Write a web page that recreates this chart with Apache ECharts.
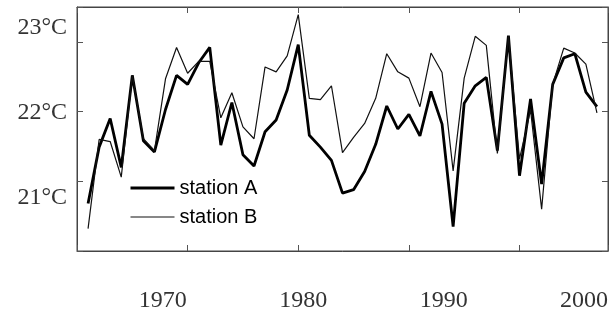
<!DOCTYPE html>
<html>
<head>
<meta charset="utf-8">
<script src="https://cdn.jsdelivr.net/npm/echarts@6/dist/echarts.min.js"></script>
<style>
html,body{margin:0;padding:0;background:#fff;}
#chart{width:613px;height:315px;}
</style>
</head>
<body>
<div id="chart"></div>
<script>
var years = [];
for (var y = 1961; y <= 2007; y++) { years.push(y); }

var stationA = [20.68,21.49,21.90,21.20,22.52,21.58,21.42,22.03,22.52,22.39,
	22.70,22.92,21.52,22.13,21.38,21.22,21.71,21.88,22.31,22.96,
	21.66,21.49,21.30,20.83,20.88,21.14,21.53,22.08,21.75,21.96,
	21.65,22.29,21.82,20.35,22.12,22.37,22.49,21.44,23.09,21.08,
	22.18,20.96,22.39,22.77,22.83,22.28,22.07];
var stationB = [20.32,21.60,21.57,21.06,22.52,21.61,21.44,22.47,22.92,22.55,
	22.72,22.72,21.91,22.27,21.78,21.61,22.64,22.57,22.80,23.39,
	22.19,22.17,22.37,21.41,21.63,21.83,22.19,22.83,22.57,22.48,
	22.07,22.84,22.56,21.15,22.48,23.08,22.95,21.40,23.08,21.32,
	22.02,20.60,22.39,22.91,22.84,22.68,21.98];

var xTickLabels = [1970, 1980, 1990, 2000];
var yTickLabels = [21, 22, 23];

function pairs(vals) {
	var out = [];
	for (var i = 0; i < years.length; i++) { out.push([years[i], vals[i]]); }
	return out;
}

// one frame axis (ticks inward, empty labels kept inside the plot)
function frameAxis(pos, min, max, step) {
	return {
		type: 'value', position: pos, min: min, max: max, interval: step,
		axisLine: {show: true, onZero: false, lineStyle: {color: '#444', width: 1}},
		axisTick: {show: true, inside: true, length: 6, lineStyle: {color: '#555', width: 1}},
		axisLabel: {show: true, margin: -20, fontSize: 1, color: 'rgba(0,0,0,0)',
			formatter: function () { return ''; }},
		splitLine: {show: false}
	};
}

var chart = echarts.init(document.getElementById('chart'));

var option = {
	animation: false,
	grid: {left: 77, top: 7, right: 5, bottom: 64,
		show: true, borderColor: '#444', borderWidth: 1},
	legend: {
		orient: 'vertical',
		left: 124,
		top: 173,
		itemWidth: 44,
		itemHeight: 14,
		itemGap: 9,
		itemStyle: {opacity: 0},
		textStyle: {fontFamily: 'Liberation Sans', fontSize: 20, color: '#000'},
		data: [
			{name: 'station A', lineStyle: {width: 3, color: '#000'}},
			{name: 'station B', lineStyle: {width: 1.2, color: '#111'}}
		]
	},
	xAxis: [
		frameAxis('bottom', 1960, 2008, 10),
		frameAxis('top', 1960, 2008, 10),
		{
			// label row, placed as in the picture
			type: 'value', position: 'bottom', min: 1963.886, max: 2001.705,
			axisLine: {show: false, onZero: false}, axisTick: {show: false}, splitLine: {show: false},
			axisLabel: {margin: 38, customValues: xTickLabels, fontFamily: 'Liberation Serif', fontSize: 24, color: '#333',
				formatter: function (v) { return String(v); }}
		}
	],
	yAxis: [
		frameAxis('left', 20, 23.5, 1),
		frameAxis('right', 20, 23.5, 1),
		{
			type: 'value', position: 'left', min: 20.376, max: 23.247,
			axisLine: {show: false, onZero: false}, axisTick: {show: false}, splitLine: {show: false},
			axisLabel: {margin: 10, customValues: yTickLabels, fontFamily: 'Liberation Serif', fontSize: 24, color: '#333',
				formatter: function (v) { return v + '°C'; }}
		}
	],
	series: [
		{
			name: 'station A', type: 'line', xAxisIndex: 0, yAxisIndex: 0,
			data: pairs(stationA), showSymbol: false, symbol: 'none',
			lineStyle: {color: '#000', width: 2.8}, itemStyle: {color: '#000'}
		},
		{
			name: 'station B', type: 'line', xAxisIndex: 0, yAxisIndex: 0,
			data: pairs(stationB), showSymbol: false, symbol: 'none',
			lineStyle: {color: '#111', width: 1.2}, itemStyle: {color: '#111'}
		}
	]
};
chart.setOption(option);
</script>
</body>
</html>
